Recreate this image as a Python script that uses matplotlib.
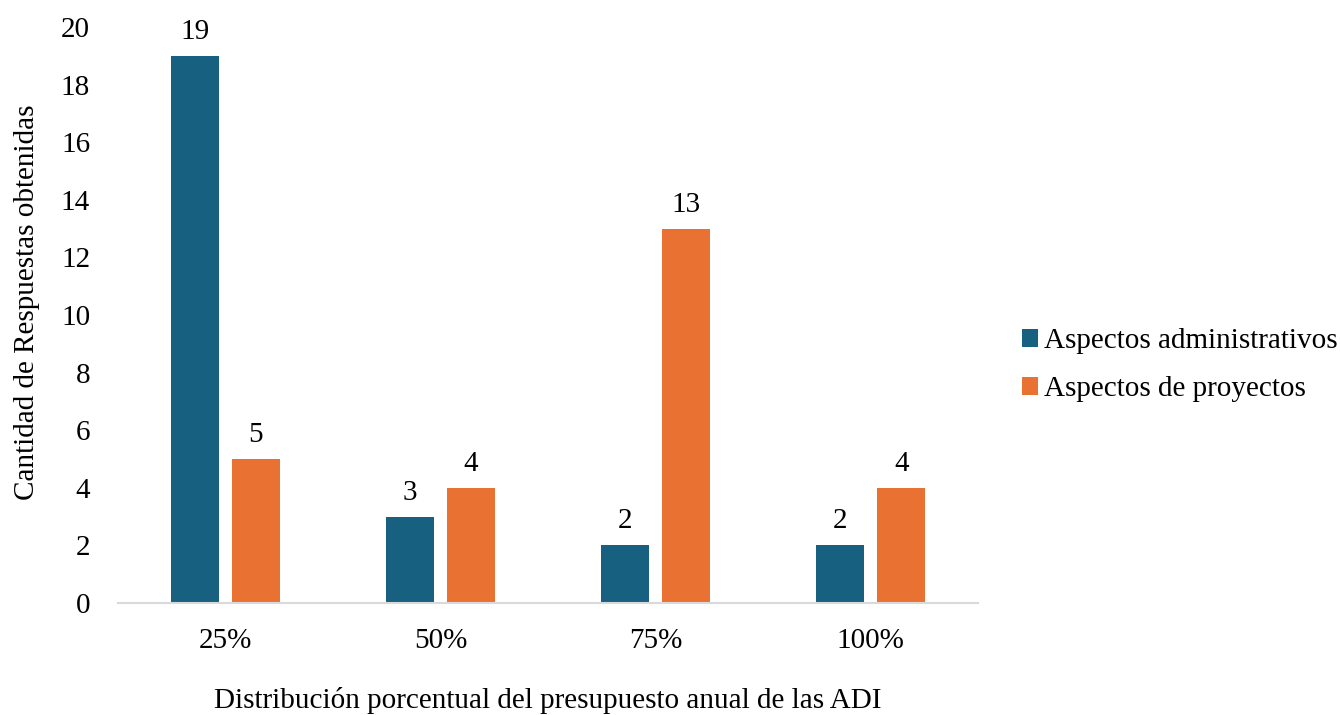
import matplotlib.pyplot as plt
import numpy as np

categories = ["25%", "50%", "75%", "100%"]
administrativos = [19, 3, 2, 2]
proyectos = [5, 4, 13, 4]
series_names = ["Aspectos administrativos", "Aspectos de proyectos"]
y_ticks = [0, 2, 4, 6, 8, 10, 12, 14, 16, 18, 20]

plt.rcParams['font.family'] = ['Liberation Serif', 'DejaVu Serif']
FS = 21

fig = plt.figure(figsize=(13.4, 7.15), dpi=100)
ax = fig.add_axes([0.088, 0.1566, 0.642, 0.8056])

x = np.arange(len(categories))
w = 0.223
off = 0.142
c_blue = "#17607F"
c_orange = "#E97132"

b1 = ax.bar(x - off, administrativos, w, color=c_blue, label=series_names[0])
b2 = ax.bar(x + off, proyectos, w, color=c_orange, label=series_names[1])

for bars, vals in ((b1, administrativos), (b2, proyectos)):
    for rect, v in zip(bars, vals):
        ax.annotate(str(v), (rect.get_x() + rect.get_width() / 2, v),
                    xytext=(0, 8), textcoords="offset points",
                    ha="center", va="bottom", fontsize=FS)

ax.set_xlim(-0.5, 3.5)
ax.set_ylim(0, 20)
ax.set_yticks(y_ticks)
ax.set_xticks(x)
ax.set_xticklabels(categories)
ax.tick_params(axis="both", length=0, labelsize=FS)
ax.tick_params(axis="y", pad=20)
ax.tick_params(axis="x", pad=18)

for s in ("top", "right", "left"):
    ax.spines[s].set_visible(False)
ax.spines["bottom"].set_color("#D9D9D9")
ax.spines["bottom"].set_linewidth(1.5)

ax.set_ylabel("Cantidad de Respuestas obtenidas", fontsize=FS)
ax.yaxis.set_label_coords(-0.091, 0.522)
ax.set_xlabel("Distribución porcentual del presupuesto anual de las ADI", fontsize=FS, labelpad=24)

ax.legend(loc="center left", bbox_to_anchor=(1.02, 0.413), frameon=False,
          fontsize=FS, handlelength=0.55, handleheight=0.55, handletextpad=0.2,
          labelspacing=0.75)

fig.savefig("out.png", dpi=100)
